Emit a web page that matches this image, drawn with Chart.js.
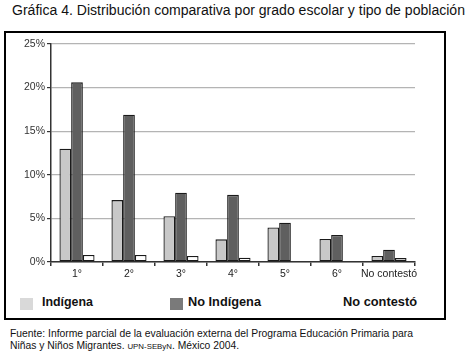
<!DOCTYPE html>
<html><head><meta charset="utf-8">
<script src="https://cdn.jsdelivr.net/npm/chart.js@4/dist/chart.umd.min.js"></script>
<style>
html,body{margin:0;padding:0;background:#fff;width:472px;height:359px;overflow:hidden;font-family:"Liberation Sans",Arial,sans-serif;}
.t{position:absolute;white-space:nowrap;line-height:1;transform-origin:0 0;color:#111;}
#box{position:absolute;left:4px;top:31px;width:438px;height:285px;border:2px solid #000;}
.sq{position:absolute;width:13px;height:12px;}
canvas{position:absolute;left:0;top:0;}
</style></head><body>
<div id="box"></div>
<div class="t" id="title" data-w="453" style="left:12px;top:3px;font-size:14px;">Gráfica 4. Distribución comparativa por grado escolar y tipo de población</div>
<div class="sq" style="left:20px;top:298px;background:#d9d9d9;"></div>
<div class="t" data-w="51" style="left:42px;top:295px;font-size:13px;font-weight:bold;">Indígena</div>
<div class="sq" style="left:170px;top:298px;background:#7a7a7a;"></div>
<div class="t" data-w="73" style="left:188px;top:295px;font-size:13px;font-weight:bold;">No Indígena</div>
<div class="t" data-w="74" style="left:343px;top:295px;font-size:13px;font-weight:bold;">No contestó</div>
<div class="t" data-w="403" style="left:10px;top:328px;font-size:10.5px;">Fuente: Informe parcial de la evaluación externa del Programa Educación Primaria para</div>
<div class="t" data-w="229" style="left:10px;top:340px;font-size:10.5px;">Niñas y Niños Migrantes. <span style="font-size:8px;">UPN-SEByN</span>. México 2004.</div>
<canvas id="c" width="472" height="359"></canvas>
<script>
const categories = ["1°", "2°", "3°", "4°", "5°", "6°", "No contestó"];
const indigena = [13.0, 7.1, 5.25, 2.6, 3.95, 2.65, 0.7];
const noIndigena = [20.6, 16.9, 7.95, 7.7, 4.5, 3.1, 1.4];
const noContesto = [0.8, 0.8, 0.7, 0.5, 0, 0, 0.45];
const seriesNames = ["Indígena", "No Indígena", "No contestó"];

document.querySelectorAll('.t[data-w]').forEach(el => {
  const w = el.getBoundingClientRect().width;
  const target = parseFloat(el.dataset.w);
  el.style.transform = 'scaleX(' + (target / w) + ')';
});

const barCommon = {borderColor: '#1a1a1a', borderWidth: 1.3, borderSkipped: false,
  categoryPercentage: 0.675, barPercentage: 1.0};
new Chart(document.getElementById('c'), {
  type: 'bar',
  data: {
    labels: categories,
    datasets: [
      Object.assign({label: seriesNames[0], data: indigena, backgroundColor: '#c8c8c8'}, barCommon),
      Object.assign({label: seriesNames[1], data: noIndigena, backgroundColor: '#5f5f5f'}, barCommon),
      Object.assign({label: seriesNames[2], data: noContesto, backgroundColor: '#ffffff'}, barCommon)
    ]
  },
  options: {
    responsive: false, animation: false, devicePixelRatio: 1,
    layout: {padding: {left: 11, top: 44, right: 57, bottom: 77}},
    plugins: {legend: {display: false}, tooltip: {enabled: false}, title: {display: false}},
    scales: {
      x: {
        afterFit: s => { s.height = 20; },
        grid: {display: true, drawOnChartArea: false, drawTicks: true, tickLength: 4, offset: true, tickColor: '#333', lineWidth: 1.5},
        border: {display: true, color: '#333', width: 1.5},
        ticks: {color: '#222', padding: 2, font: {family: '"Liberation Sans", Arial, sans-serif', size: 10.5}, maxRotation: 0, autoSkip: false}
      },
      y: {
        min: 0, max: 25,
        afterFit: s => { s.width = 40; },
        grid: {color: '#b4b4b4', lineWidth: 1.2, tickLength: 4, tickColor: '#333'},
        border: {display: true, color: '#333', width: 1.5},
        ticks: {stepSize: 5, padding: 2, color: '#333', font: {family: '"Liberation Sans", Arial, sans-serif', size: 10.5},
          callback: v => v + '%'}
      }
    }
  }
});
</script>
</body></html>
